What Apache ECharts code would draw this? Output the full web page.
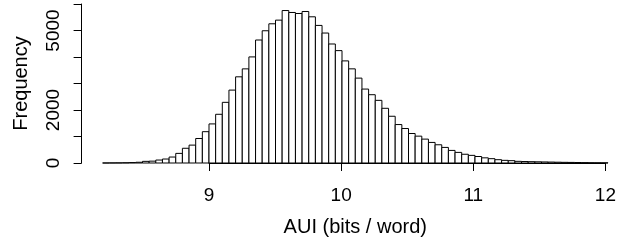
<!DOCTYPE html>
<html>
<head>
<meta charset="utf-8">
<script src="https://cdn.jsdelivr.net/npm/echarts@6/dist/echarts.min.js"></script>
<style>
  html, body { margin: 0; padding: 0; background: #fff; }
  #chart { width: 619px; height: 250px; }
</style>
</head>
<body>
<div id="chart"></div>
<script>
// histogram bins: left edges, width 0.05
const binLeft = [
  8.20, 8.25, 8.30, 8.35, 8.40, 8.45, 8.50, 8.55, 8.60, 8.65,
  8.70, 8.75, 8.80, 8.85, 8.90, 8.95, 9.00, 9.05, 9.10, 9.15,
  9.20, 9.25, 9.30, 9.35, 9.40, 9.45, 9.50, 9.55, 9.60, 9.65,
  9.70, 9.75, 9.80, 9.85, 9.90, 9.95, 10.00, 10.05, 10.10, 10.15,
  10.20, 10.25, 10.30, 10.35, 10.40, 10.45, 10.50, 10.55, 10.60, 10.65,
  10.70, 10.75, 10.80, 10.85, 10.90, 10.95, 11.00, 11.05, 11.10, 11.15,
  11.20, 11.25, 11.30, 11.35, 11.40, 11.45, 11.50, 11.55, 11.60, 11.65,
  11.70, 11.75, 11.80, 11.85, 11.90, 11.95
]
const binWidth = 0.05
const counts = [
  1, 3, 5, 9, 16, 28, 62, 70, 112, 150,
  225, 363, 556, 675, 925, 1182, 1475, 1838, 2289, 2751,
  3252, 3552, 4003, 4641, 4990, 5253, 5391, 5753, 5680, 5642,
  5717, 5517, 5192, 4904, 4491, 4241, 3853, 3553, 3203, 2790,
  2577, 2364, 2064, 1764, 1451, 1301, 1113, 1013, 901, 776,
  688, 588, 475, 400, 330, 288, 245, 195, 163, 125,
  100, 88, 63, 55, 50, 45, 40, 35, 30, 25,
  22, 18, 14, 10, 8, 6
]
const xTicks = [9, 10, 11, 12]
const yLabels = [0, 2000, 5000]

const font = '"Liberation Sans", Arial, Helvetica, sans-serif'
const chart = echarts.init(document.getElementById('chart'))

const data = binLeft.map(function (x, i) {
  return [x, x + binWidth, counts[i]]
})

const option = {
  animation: false,
  backgroundColor: '#fff',
  grid: [
    { left: 102.6, right: 11, top: 4, bottom: 87 },
    { left: 209, right: 11, top: 4, bottom: 87 }
  ],
  xAxis: [
    {
      gridIndex: 0,
      type: 'value',
      min: 8.2,
      max: 12,
      axisLine: { show: false },
      axisTick: { show: false },
      axisLabel: { show: false },
      splitLine: { show: false },
      name: 'AUI (bits / word)',
      nameLocation: 'middle',
      nameGap: 54,
      nameTextStyle: { fontFamily: font, fontSize: 20, color: '#000' }
    },
    {
      gridIndex: 1,
      type: 'value',
      min: xTicks[0],
      max: xTicks[xTicks.length - 1],
      interval: 1,
      offset: 6,
      axisLine: { lineStyle: { color: '#000', width: 1 } },
      axisTick: { length: 8, lineStyle: { color: '#000' } },
      axisLabel: { margin: 17, fontFamily: font, fontSize: 19, color: '#000' },
      splitLine: { show: false }
    }
  ],
  yAxis: [
    {
      gridIndex: 0,
      type: 'value',
      min: 0,
      max: 6000,
      interval: 1000,
      offset: 21,
      axisLine: { show: true, lineStyle: { color: '#000', width: 1 } },
      axisTick: { show: true, length: 8, lineStyle: { color: '#000' } },
      axisLabel: {
        rotate: 90,
        margin: 18,
        fontFamily: font,
        fontSize: 19,
        color: '#000',
        formatter: function (v) {
          return yLabels.indexOf(v) >= 0 ? String(v) : ''
        }
      },
      splitLine: { show: false },
      name: 'Frequency',
      nameLocation: 'middle',
      nameRotate: 90,
      nameGap: 50,
      nameTextStyle: { fontFamily: font, fontSize: 20, color: '#000' }
    },
    {
      gridIndex: 1,
      type: 'value',
      min: 0,
      max: 6000,
      show: false
    }
  ],
  series: [
    {
      type: 'custom',
      xAxisIndex: 0,
      yAxisIndex: 0,
      encode: { x: [0, 1], y: 2 },
      data: data,
      renderItem: function (params, api) {
        const p0 = api.coord([api.value(0), api.value(2)])
        const p1 = api.coord([api.value(1), 0])
        return {
          type: 'rect',
          shape: { x: p0[0], y: p0[1], width: p1[0] - p0[0], height: p1[1] - p0[1] },
          style: { fill: '#fff', stroke: '#000', lineWidth: 1 }
        }
      }
    }
  ]
}
chart.setOption(option)
</script>
</body>
</html>
